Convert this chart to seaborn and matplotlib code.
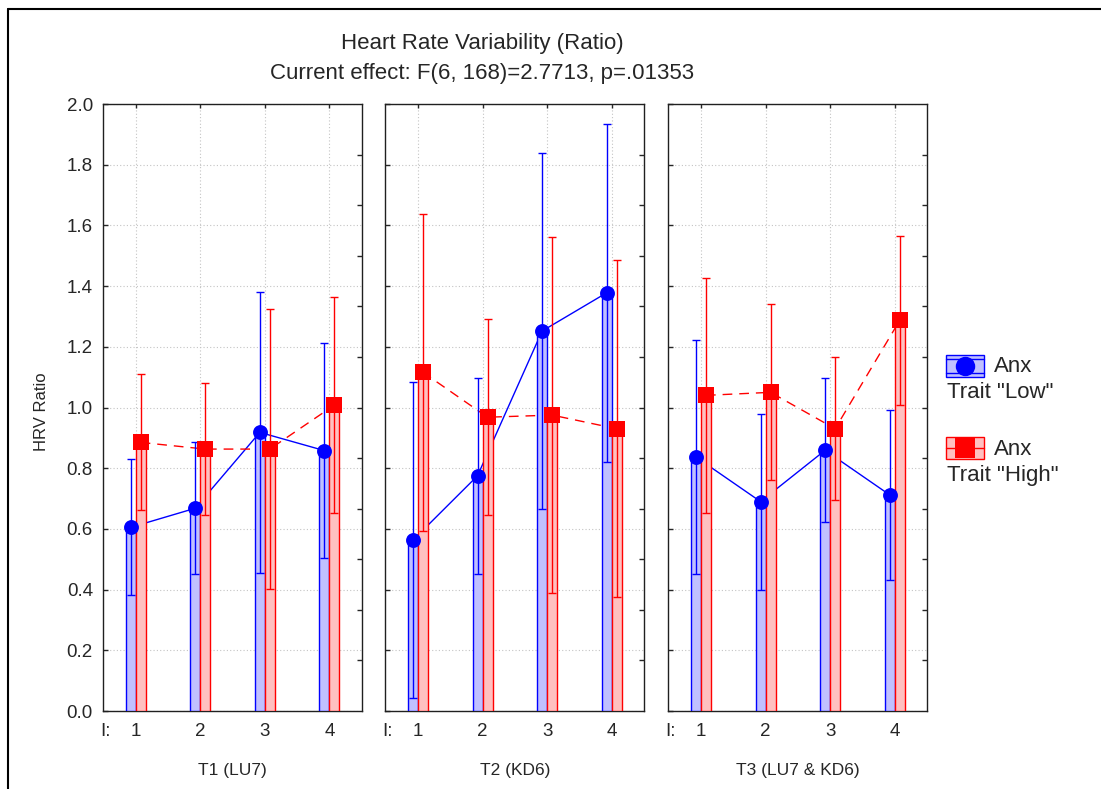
import numpy as np
import pandas as pd
import matplotlib
matplotlib.use("Agg")
import matplotlib.pyplot as plt
import matplotlib.transforms as mtransforms
from matplotlib.patches import Rectangle
from matplotlib.lines import Line2D
import seaborn as sns

sns.set_style("white")
plt.rcParams["font.family"] = ["Liberation Sans", "DejaVu Sans"]

# Session levels (I) and treatment panels
sessions = [1, 2, 3, 4]
treatments = ["T1 (LU7)", "T2 (KD6)", "T3 (LU7 & KD6)"]

# Means and 95% CI half-widths, trait anxiety "Low"
low_mean = [[0.605, 0.668, 0.918, 0.858],
            [0.563, 0.775, 1.252, 1.378],
            [0.837, 0.690, 0.859, 0.712]]
low_ci = [[0.224, 0.218, 0.462, 0.354],
          [0.521, 0.322, 0.587, 0.556],
          [0.386, 0.290, 0.237, 0.280]]

# Means and 95% CI half-widths, trait anxiety "High"
high_mean = [[0.885, 0.863, 0.863, 1.008],
             [1.116, 0.968, 0.975, 0.930],
             [1.040, 1.050, 0.930, 1.287]]
high_ci = [[0.224, 0.218, 0.462, 0.355],
           [0.523, 0.322, 0.587, 0.555],
           [0.387, 0.290, 0.235, 0.279]]

title_lines = ["Heart Rate Variability (Ratio)",
               "Current effect: F(6, 168)=2.7713, p=.01353"]
y_label = "HRV Ratio"
legend_labels = [("Anx", 'Trait "Low"'), ("Anx", 'Trait "High"')]

BLUE, BLUE_FILL = "#0000ff", "#c0c0ff"
RED, RED_FILL = "#ff0000", "#ffc0c0"
GRID = "#c4c4c4"

W, H = 1101, 789
fig = plt.figure(figsize=(W / 100, H / 100), dpi=100)

panel_left = [102.7, 385.0, 668.0]
panel_w = 259.0
ax_bottom = (H - 711) / H
ax_height = 607 / H

bar_w = 0.155
off = bar_w / 2

for k, name in enumerate(treatments):
    ax = fig.add_axes([panel_left[k] / W, ax_bottom, panel_w / W, ax_height])
    df = pd.DataFrame({
        "session": sessions * 2,
        "mean": low_mean[k] + high_mean[k],
        "ci": low_ci[k] + high_ci[k],
        "group": ["Low"] * 4 + ["High"] * 4,
    })
    df["x"] = df["session"] + np.where(df["group"] == "Low", -off, off)
    lo = df[df["group"] == "Low"]
    hi = df[df["group"] == "High"]

    # connecting lines sit under the bars
    sns.lineplot(data=lo, x="x", y="mean", ax=ax, color=BLUE, linewidth=1.0,
                 estimator=None, sort=False, zorder=2)
    sns.lineplot(data=hi, x="x", y="mean", ax=ax, color=RED, linewidth=1.0,
                 estimator=None, sort=False, zorder=2, linestyle=(0, (7, 5)))

    ax.bar(lo["x"], lo["mean"], width=bar_w, color=BLUE_FILL, edgecolor=BLUE,
           linewidth=1.0, zorder=3)
    ax.bar(hi["x"], hi["mean"], width=bar_w, color=RED_FILL, edgecolor=RED,
           linewidth=1.0, zorder=3)

    ax.errorbar(lo["x"], lo["mean"], yerr=lo["ci"], fmt="none", ecolor=BLUE,
                elinewidth=1.0, capsize=3, capthick=1.0, zorder=4)
    ax.errorbar(hi["x"], hi["mean"], yerr=hi["ci"], fmt="none", ecolor=RED,
                elinewidth=1.0, capsize=3, capthick=1.0, zorder=4)

    sns.scatterplot(data=lo, x="x", y="mean", ax=ax, marker="o", s=115,
                    color=BLUE, edgecolor=BLUE, linewidth=0, zorder=5, legend=False)
    sns.scatterplot(data=hi, x="x", y="mean", ax=ax, marker="s", s=130,
                    color=RED, edgecolor=RED, linewidth=0, zorder=5, legend=False)

    ax.set_xlim(0.49, 4.5)
    ax.set_ylim(0, 2.0)
    ax.set_xlabel("")
    ax.set_ylabel("")
    ax.set_yticks(np.arange(0, 2.01, 0.2))
    ax.set_xticks(sessions)
    ax.grid(True, color=GRID, linestyle=(0, (1, 2)), linewidth=0.8)
    ax.set_axisbelow(True)
    ax.tick_params(axis="x", which="both", bottom=False, top=True, direction="in",
                   length=3, width=1, labelbottom=False)
    ax.tick_params(axis="y", which="both", left=True, right=False, direction="in",
                   length=3.5, width=1, labelsize=13.5, pad=7,
                   labelleft=(k == 0))
    if k == 0:
        ax.set_yticklabels([f"{v:.1f}" for v in np.arange(0, 2.01, 0.2)])
    for sp in ax.spines.values():
        sp.set_visible(True)
        sp.set_color("#202020")
        sp.set_linewidth(1.0)

    # secondary inner ticks along the right edge
    ax2 = ax.twinx()
    ax2.set_ylim(0, 2.0)
    ax2.set_yticks(np.linspace(0, 2.0, 13)[1:-1])
    ax2.tick_params(axis="y", direction="in", length=3.5, width=1,
                    labelright=False)
    for sp in ax2.spines.values():
        sp.set_visible(False)

    trans = mtransforms.blended_transform_factory(ax.transData, fig.transFigure)
    for s in sessions:
        ax.text(s, (H - 731) / H, str(s), transform=trans, ha="center",
                va="center", fontsize=13.5)
    ax.text(0.53, (H - 731) / H, "I:", transform=trans, ha="center",
            va="center", fontsize=13.5)
    ax.text(2.5, (H - 771) / H, name, transform=trans, ha="center",
            va="center", fontsize=12.5)

fig.text(482 / W, 1 - 44 / H, title_lines[0], ha="center", va="center",
         fontsize=16)
fig.text(482 / W, 1 - 73 / H, title_lines[1], ha="center", va="center",
         fontsize=16)
fig.text(42 / W, 1 - 412 / H, y_label, ha="center", va="center",
         rotation=90, fontsize=12)

# legend entries: swatch box, inner line(s), marker, two-line label
entries = [(BLUE, BLUE_FILL, "o", 355, 366, 393, 14, [0.2, 0.8]),
           (RED, RED_FILL, "s", 437, 449, 475, 14, [0.5])]
for (c, fc, mk, top, y1, y2, ms, fracs), (l1, l2) in zip(entries, legend_labels):
    x0, bw, bh = 946, 38, 22
    fig.add_artist(Rectangle((x0 / W, 1 - (top + bh) / H), bw / W, bh / H,
                             transform=fig.transFigure, facecolor=fc,
                             edgecolor=c, linewidth=1.0))
    for f in fracs:
        yl = 1 - (top + bh * f) / H
        fig.add_artist(Line2D([x0 / W, (x0 + bw) / W], [yl, yl],
                              transform=fig.transFigure, color=c, linewidth=1.0))
    ymid = 1 - (top + bh / 2) / H
    fig.add_artist(Line2D([(x0 + bw / 2) / W], [ymid], transform=fig.transFigure,
                          marker=mk, markersize=ms, color=c, linestyle="none",
                          markeredgewidth=0))
    fig.text(994 / W, 1 - y1 / H, l1, ha="left", va="center", fontsize=16)
    fig.text(947 / W, 1 - y2 / H, l2, ha="left", va="center", fontsize=16)

# outer frame along the top and left edges
fig.add_artist(Line2D([8 / W, 8 / W], [0, 1 - 9 / H], transform=fig.transFigure,
                      color="black", linewidth=1.5))
fig.add_artist(Line2D([8 / W, 1], [1 - 9 / H, 1 - 9 / H],
                      transform=fig.transFigure, color="black", linewidth=1.5))

fig.savefig("out.png", dpi=100)
